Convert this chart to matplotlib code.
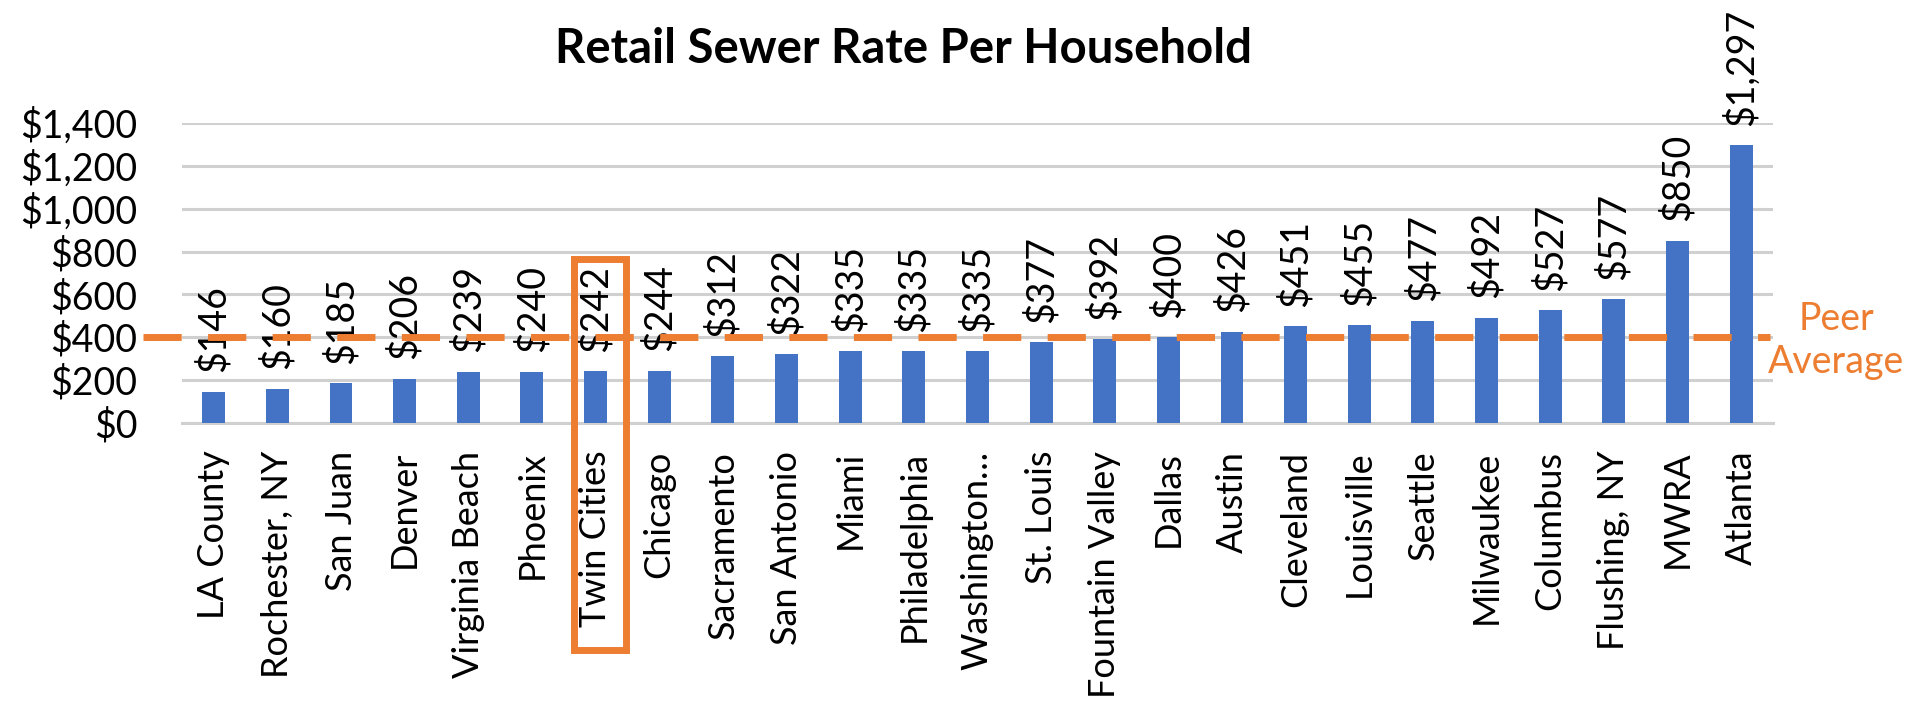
import matplotlib
matplotlib.use("Agg")
import matplotlib.pyplot as plt
from matplotlib.patches import Rectangle

categories = ["LA County", "Rochester, NY", "San Juan", "Denver", "Virginia Beach",
              "Phoenix", "Twin Cities", "Chicago", "Sacramento", "San Antonio",
              "Miami", "Philadelphia", "Washington\u2026", "St. Louis", "Fountain Valley",
              "Dallas", "Austin", "Cleveland", "Louisville", "Seattle", "Milwaukee",
              "Columbus", "Flushing, NY", "MWRA", "Atlanta"]
values = [146, 160, 185, 206, 239, 240, 242, 244, 312, 322, 335, 335, 335, 377,
          392, 400, 426, 451, 455, 477, 492, 527, 577, 850, 1297]
yticks = [0, 200, 400, 600, 800, 1000, 1200, 1400]
peer_average = 400
highlight = "Twin Cities"
title = "Retail Sewer Rate Per Household"

plt.rcParams['font.family'] = ['Lato', 'DejaVu Sans']

fig = plt.figure(figsize=(19.07, 7.27), dpi=100)
ax = fig.add_axes([0.0954, 0.4182, 0.8343, 0.4127])

x = list(range(len(categories)))
bars = ax.bar(x, values, width=0.36, color="#4472C4", zorder=3)
ax.set_xlim(-0.5, len(categories) - 0.5)
ax.set_ylim(0, 1400)

ax.set_yticks(yticks)
ax.set_yticklabels([f"${v:,}" for v in yticks], fontsize=27)
ax.yaxis.grid(True, color="#d0d0d0", linewidth=2.2, zorder=0)
ax.set_axisbelow(True)
for s in ["top", "right", "left"]:
    ax.spines[s].set_visible(False)
ax.spines["bottom"].set_color("#d0d0d0")
ax.spines["bottom"].set_linewidth(2.2)
ax.tick_params(axis="y", length=0, pad=32)
ax.tick_params(axis="x", length=0, pad=20)
ax.set_xticks(x)
ax.set_xticklabels(categories, rotation=90, fontsize=26)

for xi, v in zip(x, values):
    ax.annotate(f"${v:,}", (xi, v), xytext=(0, 14), textcoords="offset points",
                rotation=90, ha="center", va="bottom", fontsize=27, color="black")

# Peer average dashed line
ax.axhline(peer_average, xmin=-0.0245, xmax=0.998, color="#ED7D31", linewidth=5,
           dashes=(5.5, 3.8), clip_on=False, zorder=4)
fig.text(0.9628, 0.532, "Peer\nAverage", color="#ED7D31", fontsize=27,
         ha="center", va="center", linespacing=1.25)

# Highlight box around Twin Cities
hi = categories.index(highlight)
rect = Rectangle((hi - 0.34, -1059), 0.82, 1824, fill=False, edgecolor="#ED7D31",
                 linewidth=5, clip_on=False, zorder=5)
ax.add_patch(rect)

fig.text(0.4736, 0.932, title, fontsize=34, fontweight="bold", ha="center", va="center")

fig.savefig("out.png", dpi=100)
